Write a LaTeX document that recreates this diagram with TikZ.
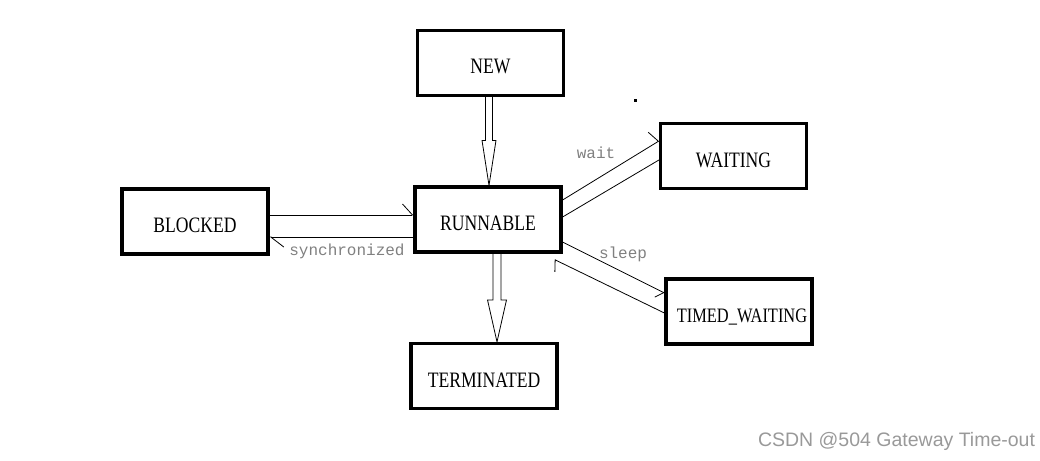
\documentclass[tikz,border=0pt]{standalone}
\usepackage{fontspec}
\setmainfont{Liberation Serif}
\newfontfamily\boxfont[FakeStretch=0.8]{Liberation Serif}
\newfontfamily\labelfont{Liberation Mono}
\newfontfamily\markfont{Liberation Sans}
\usepackage{tikz}
\usetikzlibrary{arrows.meta,calc}

% open double-line arrow: from, to, shaft half width, head half width, head length
\newcommand{\hollowarrow}[5]{%
  \draw[link] let \p1=(#1), \p2=(#2) in
    (\x1-#3,\y1) -- (\x1-#3,\y2+#5) -- (\x1-#4,\y2+#5) -- (\x1,\y2)
    -- (\x1+#4,\y2+#5) -- (\x1+#3,\y2+#5) -- (\x1+#3,\y1);}

\begin{document}
\begin{tikzpicture}[x=1pt,y=-1pt,
    state/.style={draw,line width=3.2pt,minimum width=146pt,minimum height=65pt,
      text height=22pt,text depth=0pt,font=\boxfont\fontsize{22}{24}\selectfont},
    link/.style={line width=0.8pt},
    trans/.style={text=black!50,font=\labelfont\fontsize{16}{18}\selectfont}]
    \useasboundingbox (0,0) rectangle (1040,460);

    \node[state] (new) at (490.5,63) {NEW};
    \node[state] (runnable) at (488,219.5) {RUNNABLE};
    \node[state] (blocked) at (195,221.5) {BLOCKED};
    \node[state] (waiting) at (733.5,156) {WAITING};
    \node[state,font=\boxfont\fontsize{20.5}{24}\selectfont,inner sep=0pt,
      minimum width=146pt] (timed) at (739,311.5) {\hspace*{6pt}TIMED\_WAITING};
    \node[state] (terminated) at (484,376) {TERMINATED};

    \hollowarrow{$(new.south)+(-1.5,0)$}{runnable.north}{3.5pt}{7pt}{45pt}
    \hollowarrow{$(runnable.south)+(9,0)$}{terminated.north}{4pt}{9.5pt}{42pt}

    \draw[link,-{Straight Barb[left,length=10pt,width=22pt]}]
      ($(blocked.east)+(0,-6.5)$) -- ($(runnable.west)+(0,-4.5)$);
    \draw[link,-{Straight Barb[left,length=13pt,width=20pt]}]
      ($(runnable.west)+(0,17.5)$) -- ($(blocked.east)+(0,15.5)$);

    \draw[link,-{Straight Barb[left,length=4pt,width=26pt]}]
      ($(runnable.east)+(0,-19.5)$) -- ($(waiting.west)+(0,-15)$);
    \draw[link] ($(waiting.west)+(0,4)$) -- ($(runnable.east)+(0,-2.5)$);

    \draw[link,-{Straight Barb[right,length=6pt,width=16pt]}]
      ($(runnable.east)+(0,22.5)$) -- ($(timed.west)+(0,-18.5)$);
    \draw[link,-{Straight Barb[left,length=5pt,width=22pt]}]
      ($(timed.west)+(0,1.5)$) -- ($(runnable.south east)+(-8,6)$);

    \node[trans] (waitlbl) at (596,153) {wait};
    \node[trans] (synclbl) at (347,251) {synchronized};
    \node[trans] (sleeplbl) at (623,254) {sleep};

    \fill (634,99) rectangle (637,102);

    \node[text=black!40,font=\markfont\fontsize{19.5}{22}\selectfont] (mark) at (896.5,441) {CSDN @504 Gateway Time-out};
\end{tikzpicture}
\end{document}
